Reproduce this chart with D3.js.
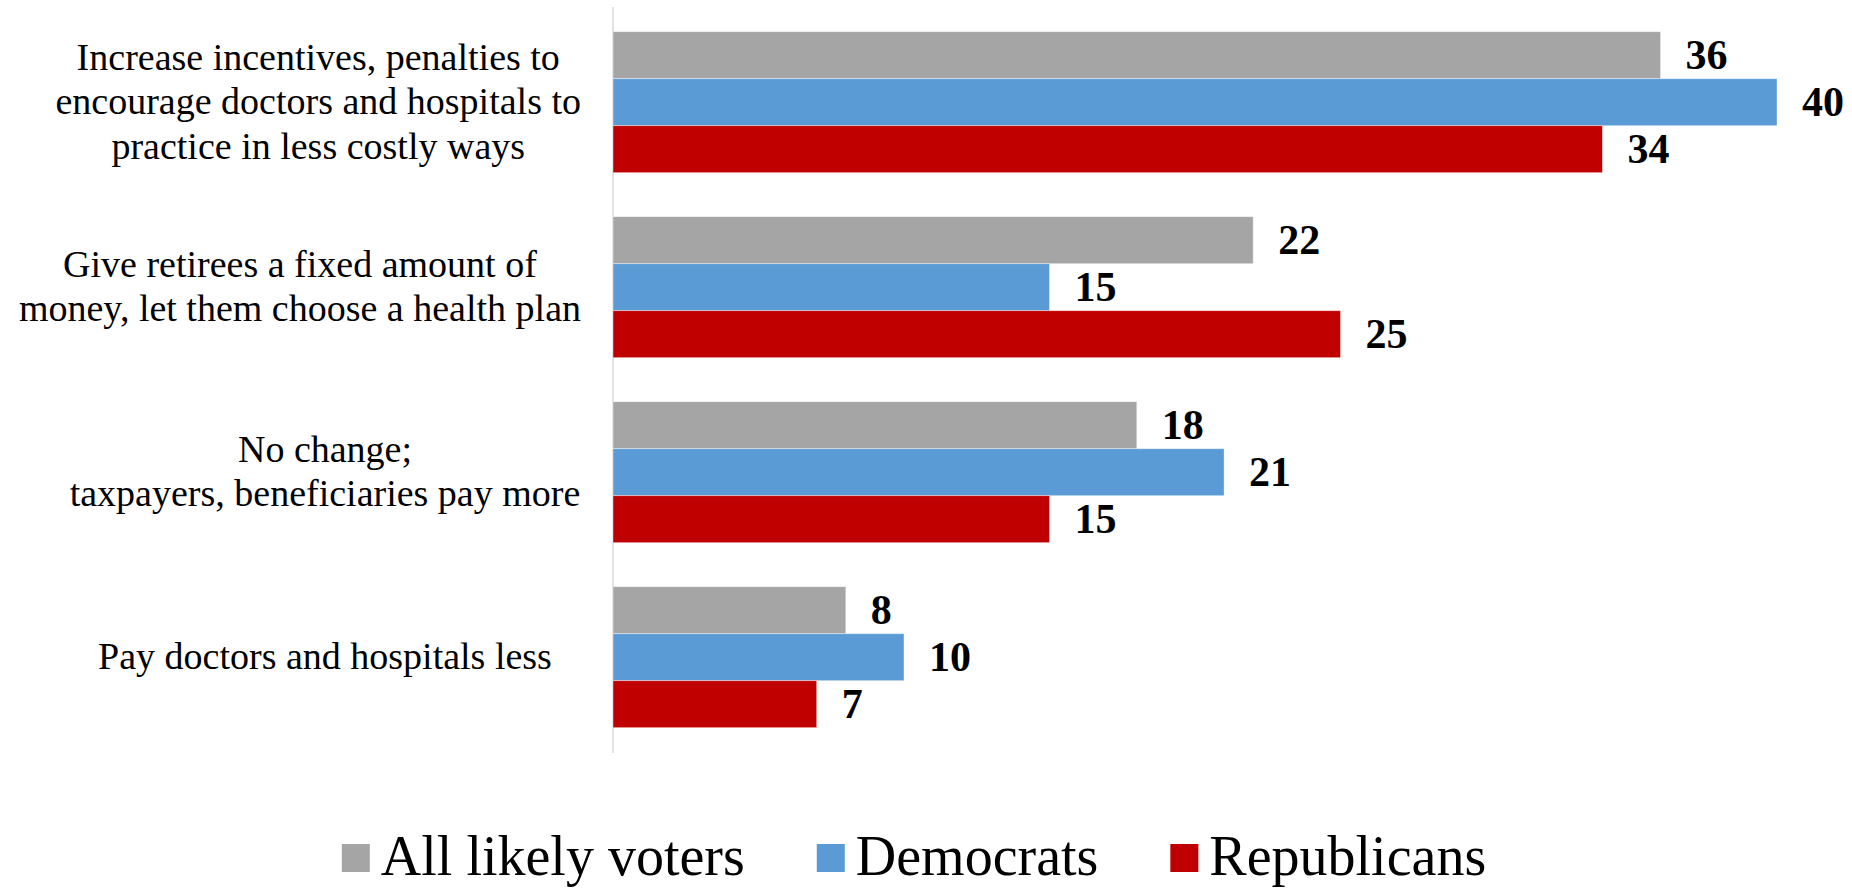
<!DOCTYPE html>
<html>
<head>
<meta charset="utf-8">
<script src="https://cdn.jsdelivr.net/npm/d3@7"></script>
<style>
  html, body { margin: 0; padding: 0; background: #ffffff; }
  svg { display: block; }
</style>
</head>
<body>
<svg id="chart" width="1852" height="888"></svg>
<script>
// ---- data ----
const categories = [
  ["Increase incentives, penalties to", "encourage doctors and hospitals to", "practice in less costly ways"],
  ["Give retirees a fixed amount of", "money, let them choose a health plan"],
  ["No change;", "taxpayers, beneficiaries pay more"],
  ["Pay doctors and hospitals less"]
];
const seriesNames = ["All likely voters", "Democrats", "Republicans"];
const allVoters   = [36, 22, 18, 8];
const democrats   = [40, 15, 21, 10];
const republicans = [34, 25, 15, 7];
const seriesColors = ["#A5A5A5", "#5B9BD5", "#C00000"];

const seriesValues = [allVoters, democrats, republicans];
const FONT = '"Liberation Serif", "Times New Roman", Tinos, serif';

// ---- layout ----
const svg = d3.select("#chart");
const x0 = 613, pxPerUnit = 29.1;
const x = d3.scaleLinear().domain([0, 40]).range([x0, x0 + 40 * pxPerUnit]);
const y = d3.scaleBand().domain(d3.range(categories.length))
  .range([9.7, 749.7]).paddingInner(0.238).paddingOuter(0.119);
const ySub = d3.scaleBand().domain(d3.range(seriesNames.length)).range([0, y.bandwidth()]);

// axis line
svg.append("line")
  .attr("x1", x(0)).attr("x2", x(0))
  .attr("y1", 7).attr("y2", 753)
  .attr("stroke", "#D9D9D9").attr("stroke-width", 1.5);

// bars
const groups = svg.selectAll("g.grp").data(categories).enter().append("g")
  .attr("class", "grp")
  .attr("transform", (d, i) => `translate(0,${y(i)})`);

groups.each(function(cat, ci) {
  const g = d3.select(this);
  seriesValues.forEach((vals, si) => {
    const v = vals[ci];
    g.append("rect")
      .attr("x", x(0))
      .attr("y", ySub(si))
      .attr("width", x(v) - x(0))
      .attr("height", ySub.bandwidth())
      .attr("fill", seriesColors[si])
      .attr("stroke", "#ffffff").attr("stroke-opacity", 0.5).attr("stroke-width", 0.8);
    g.append("text")
      .attr("x", x(v) + 25)
      .attr("y", ySub(si) + ySub.bandwidth() / 2 + 13.5)
      .style("font-family", FONT)
      .style("font-size", "42px")
      .style("font-weight", "bold")
      .style("fill", "#000")
      .text(v);
  });
});

// category labels (centered in label area, but kept left of the right limit)
const lineH = 44.5, labelCenter = 325, labelRight = 581;
categories.forEach((lines, ci) => {
  const cy = y(ci) + y.bandwidth() / 2;
  const first = cy + 12 - (lines.length - 1) * lineH / 2;
  const t = svg.append("text")
    .attr("text-anchor", "middle")
    .style("font-family", FONT)
    .style("font-size", "38px")
    .style("fill", "#000");
  const spans = lines.map((ln, li) =>
    t.append("tspan").attr("y", first + li * lineH).text(ln));
  const maxW = d3.max(spans, s => s.node().getComputedTextLength());
  const cx = Math.min(labelCenter, labelRight - maxW / 2);
  spans.forEach(s => s.attr("x", cx));
});

// legend
const legend = svg.append("g");
let cursor = 0;
seriesNames.forEach((name, i) => {
  const g = legend.append("g");
  g.append("rect").attr("x", cursor).attr("y", 844).attr("width", 28).attr("height", 28)
    .attr("fill", seriesColors[i]);
  const t = g.append("text").attr("x", cursor + 39).attr("y", 875)
    .style("font-family", FONT)
    .style("font-size", "56px")
    .style("fill", "#000")
    .text(name);
  const w = t.node().getComputedTextLength();
  cursor += 39 + w + 72;
});
const total = cursor - 72;
legend.attr("transform", `translate(${914 - total / 2},0)`);
</script>
</body>
</html>
